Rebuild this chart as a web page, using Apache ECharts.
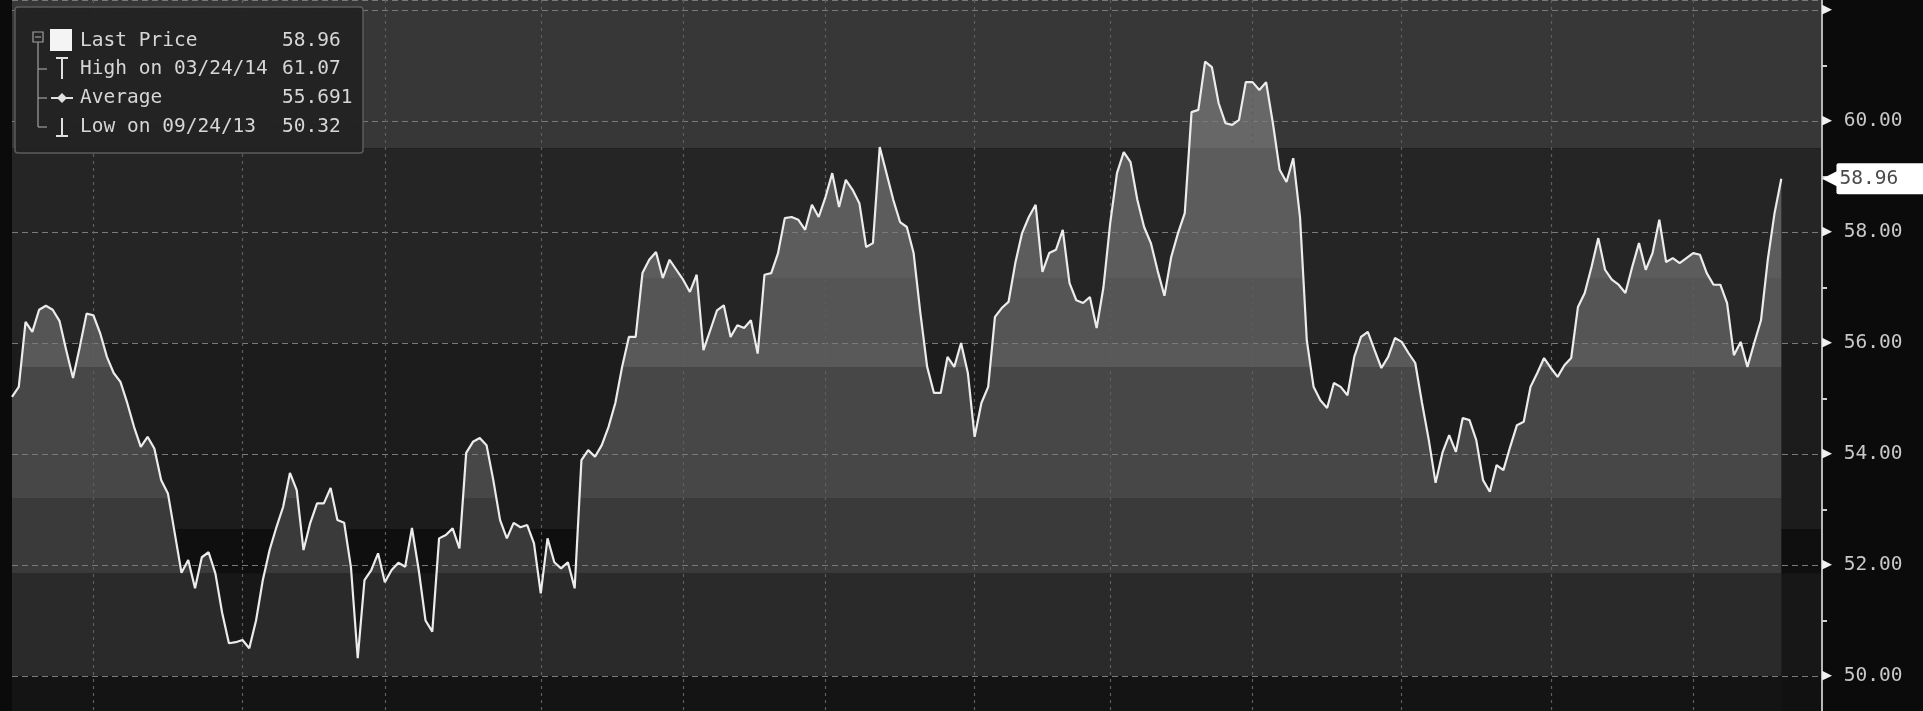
<!DOCTYPE html>
<html>
<head>
<meta charset="utf-8">
<script src="https://cdn.jsdelivr.net/npm/echarts@6/dist/echarts.min.js"></script>
<style>
html,body{margin:0;padding:0;background:#0b0b0b;overflow:hidden;}
#chart{width:1923px;height:711px;}
</style>
</head>
<body>
<div id="chart"></div>
<script>
// ---- data ----
const startDate = '2013-07-16';
const holidays = ['2013-12-25', '2014-01-01'];
const extraDays = 6;
const prices = [
55.03,55.21,56.38,56.2,56.6,56.67,56.6,56.4,55.87,55.37,
55.93,56.53,56.5,56.18,55.75,55.46,55.3,54.92,54.49,54.13,
54.31,54.1,53.53,53.29,52.58,51.86,52.09,51.58,52.14,52.23,
51.85,51.14,50.59,50.61,50.65,50.5,51.0,51.73,52.27,52.68,
53.05,53.66,53.35,52.27,52.76,53.11,53.11,53.39,52.81,52.76,
51.96,50.32,51.73,51.91,52.21,51.69,51.91,52.04,51.97,52.67,
51.91,51.0,50.8,52.48,52.54,52.66,52.3,54.02,54.22,54.29,
54.16,53.53,52.81,52.48,52.76,52.68,52.72,52.39,51.49,52.48,
52.05,51.94,52.05,51.58,53.89,54.07,53.95,54.16,54.49,54.92,
55.57,56.11,56.11,57.26,57.5,57.64,57.17,57.5,57.32,57.14,
56.92,57.23,55.87,56.23,56.59,56.68,56.11,56.32,56.27,56.41,
55.81,57.23,57.26,57.62,58.25,58.27,58.22,58.04,58.49,58.27,
58.63,59.06,58.45,58.94,58.76,58.52,57.73,57.8,59.53,59.06,
58.58,58.18,58.09,57.62,56.54,55.57,55.1,55.1,55.75,55.57,
56.0,55.46,54.31,54.92,55.21,56.47,56.63,56.74,57.44,57.98,
58.27,58.49,57.28,57.62,57.68,58.04,57.08,56.77,56.72,56.83,
56.27,57.0,58.16,59.06,59.44,59.26,58.58,58.09,57.8,57.3,
56.85,57.55,57.98,58.34,60.16,60.2,61.07,60.97,60.32,59.96,
59.93,60.02,60.7,60.7,60.56,60.7,59.96,59.12,58.9,59.33,
58.27,56.05,55.21,54.97,54.83,55.28,55.21,55.06,55.75,56.11,
56.2,55.87,55.55,55.75,56.09,56.02,55.82,55.64,54.92,54.25,
53.48,54.02,54.34,54.04,54.65,54.61,54.25,53.53,53.32,53.8,
53.71,54.13,54.52,54.58,55.21,55.46,55.73,55.55,55.39,55.6,
55.73,56.65,56.9,57.37,57.89,57.32,57.14,57.05,56.9,57.37,
57.8,57.32,57.62,58.22,57.46,57.53,57.44,57.53,57.62,57.59,
57.26,57.05,57.05,56.72,55.78,56.02,55.57,56.0,56.41,57.5,
58.34,58.96
];
const legendNames = ['Last Price', 'High on 03/24/14', 'Average', 'Low on 09/24/13'];
const legendValues = ['58.96', '61.07', '55.691', '50.32'];
const lastPrice = 58.96;
const yMin = 49.37, yMax = 62.18;

// band levels (price) for the shading
const fillBands = [   // under the line
  {gt: 59.51, color: '#676767'},
  {gt: 57.17, lte: 59.51, color: '#5c5c5c'},
  {gt: 56.0, lte: 57.17, color: '#555555'},
  {gt: 55.57, lte: 56.0, color: '#595959'},
  {gt: 53.2, lte: 55.57, color: '#474747'},
  {gt: 51.85, lte: 53.2, color: '#3a3a3a'},
  {gt: 50.0, lte: 51.85, color: '#2a2a2a'},
  {lte: 50.0, color: '#141414'}
];
const backBands = [   // above the line (background)
  [59.51, 62.18, '#373737'],
  [56.0, 59.51, '#252525'],
  [52.65, 56.0, '#1c1c1c'],
  [51.85, 52.65, '#0f0f0f'],
  [50.0, 51.85, '#171717'],
  [49.37, 50.0, '#111111']
];

function buildTradingDays(start, count) {
  const out = [];
  const d = new Date(start + 'T00:00:00Z');
  while (out.length < count) {
    const wd = d.getUTCDay();
    const s = d.toISOString().slice(0, 10);
    if (wd !== 0 && wd !== 6 && holidays.indexOf(s) < 0) out.push(s);
    d.setUTCDate(d.getUTCDate() + 1);
  }
  return out;
}
const categories = buildTradingDays(startDate, prices.length + extraDays);

const FONT = '"DejaVu Sans Mono", "Liberation Mono", monospace';
const chart = echarts.init(document.getElementById('chart'));

const rowY = [41, 69, 98, 127];
const legendGraphics = [
  {type: 'rect', z: 100, shape: {x: 15, y: 7, width: 348, height: 146, r: 3},
   style: {fill: 'rgba(34,34,34,0.94)', stroke: '#5c5c5c', lineWidth: 1.5}},
  {type: 'rect', z: 101, shape: {x: 33, y: 32, width: 10, height: 10},
   style: {fill: 'none', stroke: '#a0a0a0', lineWidth: 1.2}},
  {type: 'line', z: 101, shape: {x1: 35, y1: 37, x2: 41, y2: 37}, style: {stroke: '#a0a0a0', lineWidth: 1.2}},
  {type: 'line', z: 101, shape: {x1: 38, y1: 42, x2: 38, y2: 127}, style: {stroke: '#a0a0a0', lineWidth: 1.2}},
  {type: 'line', z: 101, shape: {x1: 38, y1: 69, x2: 47, y2: 69}, style: {stroke: '#a0a0a0', lineWidth: 1.2}},
  {type: 'line', z: 101, shape: {x1: 38, y1: 98, x2: 47, y2: 98}, style: {stroke: '#a0a0a0', lineWidth: 1.2}},
  {type: 'line', z: 101, shape: {x1: 38, y1: 127, x2: 47, y2: 127}, style: {stroke: '#a0a0a0', lineWidth: 1.2}},
  {type: 'rect', z: 101, shape: {x: 50, y: 29, width: 22, height: 22}, style: {fill: '#f4f4f4'}},
  {type: 'line', z: 101, shape: {x1: 56, y1: 58, x2: 68, y2: 58}, style: {stroke: '#e0e0e0', lineWidth: 2}},
  {type: 'line', z: 101, shape: {x1: 62, y1: 58, x2: 62, y2: 79}, style: {stroke: '#e0e0e0', lineWidth: 2}},
  {type: 'line', z: 101, shape: {x1: 51, y1: 98, x2: 73, y2: 98}, style: {stroke: '#e0e0e0', lineWidth: 2}},
  {type: 'polygon', z: 101, shape: {points: [[62, 93], [67, 98], [62, 103], [57, 98]]}, style: {fill: '#e0e0e0'}},
  {type: 'line', z: 101, shape: {x1: 62, y1: 118, x2: 62, y2: 136}, style: {stroke: '#e0e0e0', lineWidth: 2}},
  {type: 'line', z: 101, shape: {x1: 56, y1: 136, x2: 68, y2: 136}, style: {stroke: '#e0e0e0', lineWidth: 2}}
];
legendNames.forEach((name, i) => {
  legendGraphics.push({type: 'text', z: 101, x: 80, y: rowY[i],
    style: {text: name, fill: '#d6d6d6', font: '19.5px ' + FONT, textVerticalAlign: 'middle'}});
  legendGraphics.push({type: 'text', z: 101, x: 282, y: rowY[i],
    style: {text: legendValues[i], fill: '#d6d6d6', font: '19.5px ' + FONT, textVerticalAlign: 'middle'}});
});

const isMajor = v => Math.abs(v - Math.round(v)) < 1e-6 && Math.round(v) % 2 === 0;

const option = {
  animation: false,
  backgroundColor: '#0b0b0b',
  grid: {left: 12, right: 101, top: 0, bottom: 0, containLabel: false},
  xAxis: {
    type: 'category',
    data: categories,
    boundaryGap: false,
    z: 5,
    axisLine: {show: false},
    axisTick: {show: false},
    axisLabel: {show: false},
    splitLine: {
      show: true,
      interval: (idx, val) => idx > 0 && val.slice(5, 7) !== categories[idx - 1].slice(5, 7),
      lineStyle: {color: '#5e5e5e', type: [3, 4], width: 1.2}
    }
  },
  yAxis: {
    type: 'value',
    position: 'right',
    min: yMin, max: yMax, splitNumber: 6,
    z: 5,
    axisLine: {show: true, lineStyle: {color: '#b8b8b8', width: 2}},
    axisTick: {show: false},
    minorTick: {show: true, splitNumber: 2, length: 5, lineStyle: {color: '#cfcfcf', width: 2}},
    splitLine: {show: true, lineStyle: {color: '#7a7a7a', type: [6, 4], width: 1.2}},
    axisLabel: {
      margin: 0,
      showMinLabel: false,
      showMaxLabel: false,
      formatter: v => {
        if (!isMajor(v)) return '';
        if (v >= 50 && v <= 60) return '{t|▶}{v| ' + v.toFixed(2) + '}';
        return '{t|▶}';
      },
      rich: {
        t: {color: '#f0f0f0', fontSize: 13, fontFamily: 'DejaVu Sans'},
        v: {color: '#c8c8c8', fontSize: 19.5, fontFamily: FONT}
      }
    }
  },
  visualMap: {
    type: 'piecewise',
    show: false,
    seriesIndex: 0,
    dimension: 1,
    pieces: fillBands
  },
  series: [
    {
      type: 'line',
      data: prices,
      symbol: 'none',
      z: 2,
      lineStyle: {width: 0},
      areaStyle: {opacity: 1},
      markArea: {
        silent: true,
        z: 1,
        data: backBands.map(b => [{yAxis: b[0], itemStyle: {color: b[2]}}, {yAxis: b[1]}])
      }
    },
    {
      type: 'line',
      data: prices,
      symbol: 'none',
      z: 10,
      clip: false,
      lineStyle: {color: '#ececec', width: 2.2},
      markLine: {
        silent: true,
        symbol: 'none',
        lineStyle: {color: 'rgba(0,0,0,0)', width: 1, type: 'solid'},
        label: {
          show: true,
          position: 'end',
          distance: 0,
          formatter: '{a|◀}{b|' + lastPrice.toFixed(2) + '}',
          rich: {
            a: {color: '#ffffff', fontSize: 24, fontFamily: 'DejaVu Sans', padding: [0, -4, 0, 0]},
            b: {backgroundColor: '#ffffff', color: '#4a4a4a', fontSize: 19.5, fontFamily: FONT,
                padding: [6, 40, 5, 3], borderRadius: 2}
          }
        },
        data: [{yAxis: lastPrice}]
      }
    }
  ],
  graphic: legendGraphics
};
chart.setOption(option);
</script>
</body>
</html>
